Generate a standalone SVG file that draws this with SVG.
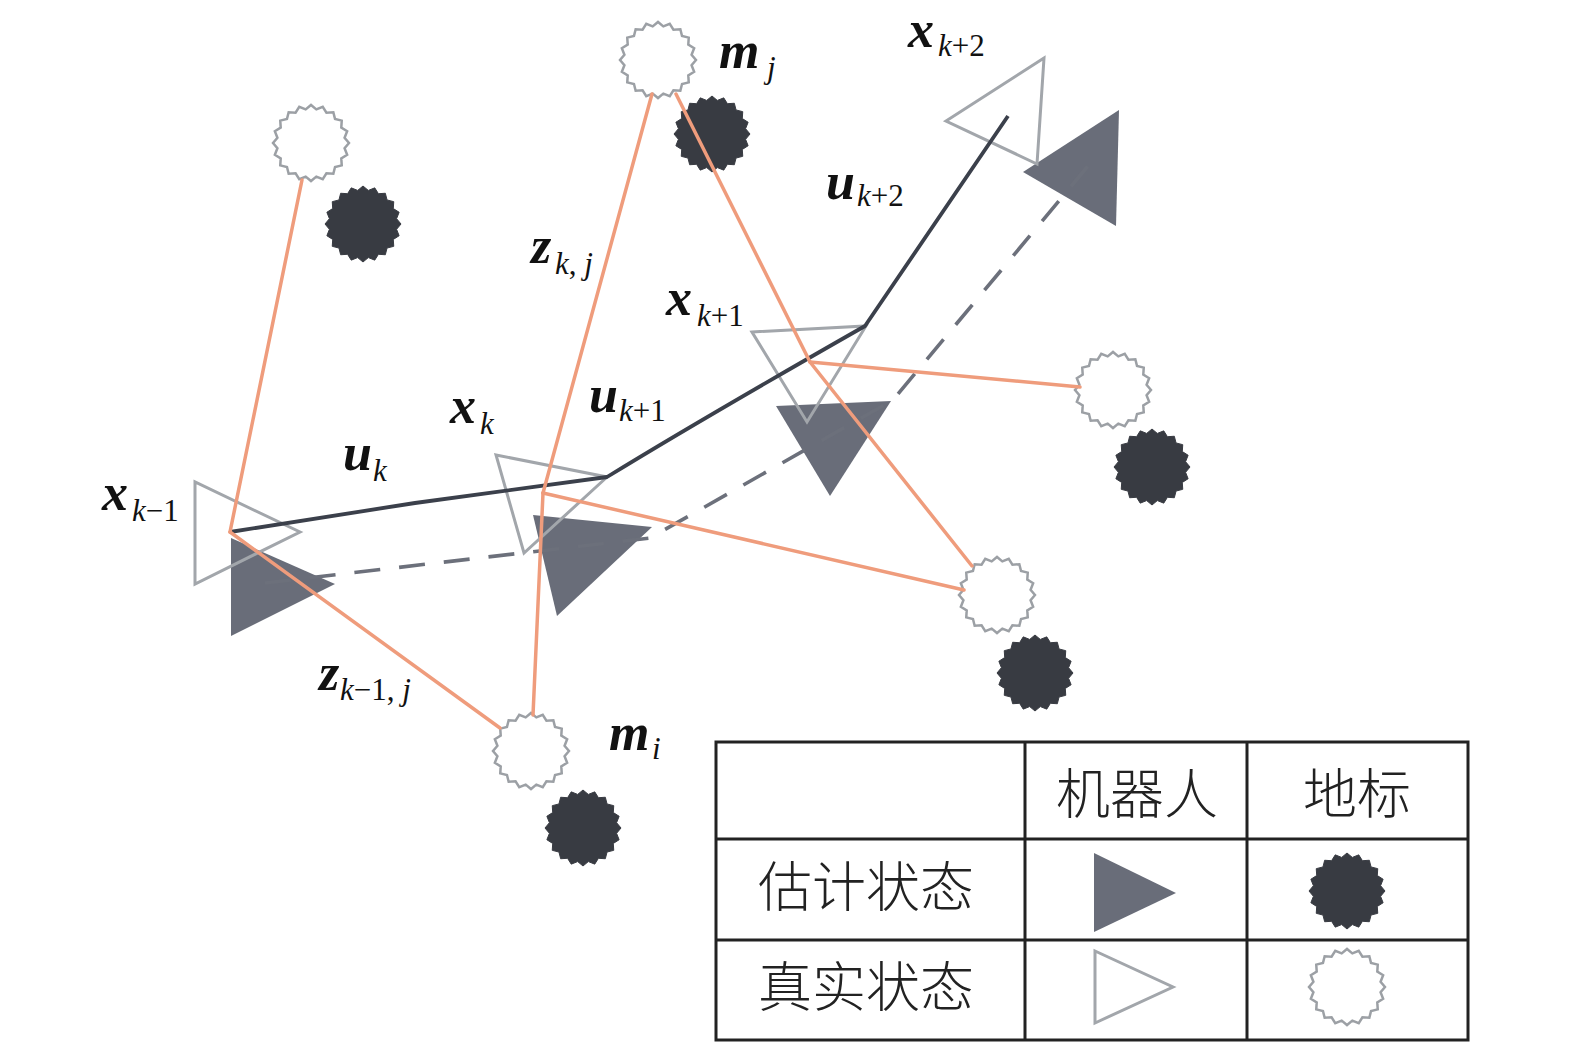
<svg xmlns="http://www.w3.org/2000/svg" xmlns:xlink="http://www.w3.org/1999/xlink" width="1575" height="1047" viewBox="0 0 1575 1047">
<style>
.lmT{fill:#ffffff;stroke:#9ca0a5;stroke-width:2.5}
.lmE{fill:#383b42;stroke:#383b42;stroke-width:1}
.trT{fill:none;stroke:#a2a6ab;stroke-width:3;stroke-linejoin:miter}
.trE{fill:#696d79;stroke:none}
.obs{fill:none;stroke:#ef9c7c;stroke-width:3.5;stroke-linecap:round}
.ctl{fill:none;stroke:#3b404b;stroke-width:3.8;stroke-linejoin:round}
.est{fill:none;stroke:#6c707b;stroke-width:3.6;stroke-dasharray:26 19}
.lbl{font-family:"Liberation Serif","Times New Roman",serif;fill:#111}
.b{font-size:52px;font-weight:bold;font-style:italic}
.si{font-size:31px;font-style:italic}
.sn{font-size:31px;font-style:normal}
.grid{fill:none;stroke:#222;stroke-width:3}
.cjk{font-family:"Noto Sans CJK SC","Noto Sans CJK JP",sans-serif;font-size:54px;font-weight:300;fill:#222;text-anchor:middle;dominant-baseline:central}
</style>
<defs>
<path id="gear" d="M38,0 L33.58,5.32 L36.14,11.74 L30.29,15.44 L30.74,22.34 L24.04,24.04 L22.34,30.74 L15.44,30.29 L11.74,36.14 L5.32,33.58 L0,38 L-5.32,33.58 L-11.74,36.14 L-15.44,30.29 L-22.34,30.74 L-24.04,24.04 L-30.74,22.34 L-30.29,15.44 L-36.14,11.74 L-33.58,5.32 L-38,0 L-33.58,-5.32 L-36.14,-11.74 L-30.29,-15.44 L-30.74,-22.34 L-24.04,-24.04 L-22.34,-30.74 L-15.44,-30.29 L-11.74,-36.14 L-5.32,-33.58 L0,-38 L5.32,-33.58 L11.74,-36.14 L15.44,-30.29 L22.34,-30.74 L24.04,-24.04 L30.74,-22.34 L30.29,-15.44 L36.14,-11.74 L33.58,-5.32 Z"/>
</defs>
<rect x="0" y="0" width="1575" height="1047" fill="#ffffff"/>

<!-- landmarks -->
<g id="landmark-tl">
<use xlink:href="#gear" class="lmT" x="311" y="143"/>
<use xlink:href="#gear" class="lmE" x="363" y="224"/>
</g>
<g id="landmark-mj">
<use xlink:href="#gear" class="lmT" x="658" y="60"/>
<use xlink:href="#gear" class="lmE" x="712" y="134"/>
</g>
<g id="landmark-right">
<use xlink:href="#gear" class="lmT" x="1113" y="390"/>
<use xlink:href="#gear" class="lmE" x="1152" y="467"/>
</g>
<g id="landmark-lowright">
<use xlink:href="#gear" class="lmT" x="997" y="595"/>
<use xlink:href="#gear" class="lmE" x="1035" y="673"/>
</g>
<g id="landmark-mi">
<use xlink:href="#gear" class="lmT" x="531" y="751"/>
<use xlink:href="#gear" class="lmE" x="583" y="828"/>
</g>

<!-- robot poses -->
<g id="pose-k-1">
<polygon class="trE" points="231,538 231,636 335,584"/>
<polygon class="trT" points="195,482 195,584 300,532"/>
</g>
<g id="pose-k">
<polygon class="trE" points="533,515 652,527 557,616"/>
<polygon class="trT" points="496,455 607,477 524,553"/>
</g>
<g id="pose-k+1">
<polygon class="trE" points="776,406 891,401 830,496"/>
<polygon class="trT" points="752,332 866,326 807,422"/>
</g>
<g id="pose-k+2">
<polygon class="trE" points="1119,110 1023,172 1116,226"/>
<polygon class="trT" points="1044,58 946,121 1037,164"/>
</g>

<!-- connectors -->
<g id="connectors">
<path class="est" d="M265,583 L522,553 L650,538 L893,400 L1088,166"/>
<path class="ctl" d="M230,532 L415,503 L607,477 Q700,420 865,326 L1008,116"/>
<line class="obs" x1="302" y1="180" x2="230" y2="532"/>
<line class="obs" x1="230" y1="532" x2="500" y2="728"/>
<line class="obs" x1="543" y1="493" x2="652" y2="94"/>
<line class="obs" x1="543" y1="493" x2="533" y2="715"/>
<line class="obs" x1="543" y1="493" x2="964" y2="590"/>
<line class="obs" x1="676" y1="94" x2="810" y2="362"/>
<line class="obs" x1="810" y1="362" x2="972" y2="566"/>
<line class="obs" x1="810" y1="362" x2="1080" y2="387"/>
</g>

<!-- labels -->
<g id="labels" class="lbl">
<text><tspan class="b" x="908" y="47">x</tspan><tspan class="si" x="938" y="56">k</tspan><tspan class="sn">+2</tspan></text>
<text><tspan class="b" x="719" y="68">m</tspan><tspan class="si" x="767" y="78">j</tspan></text>
<text><tspan class="b" x="826" y="199">u</tspan><tspan class="si" x="857" y="206">k</tspan><tspan class="sn">+2</tspan></text>
<text><tspan class="b" x="531" y="263">z</tspan><tspan class="si" x="555" y="274">k</tspan><tspan class="sn">, </tspan><tspan class="si">j</tspan></text>
<text><tspan class="b" x="666" y="315">x</tspan><tspan class="si" x="697" y="326">k</tspan><tspan class="sn">+1</tspan></text>
<text><tspan class="b" x="589" y="412">u</tspan><tspan class="si" x="619" y="421">k</tspan><tspan class="sn">+1</tspan></text>
<text><tspan class="b" x="450" y="423">x</tspan><tspan class="si" x="480" y="434">k</tspan></text>
<text><tspan class="b" x="343" y="470">u</tspan><tspan class="si" x="373" y="481">k</tspan></text>
<text><tspan class="b" x="102" y="510">x</tspan><tspan class="si" x="132" y="521">k</tspan><tspan class="sn">−1</tspan></text>
<text><tspan class="b" x="319" y="690">z</tspan><tspan class="si" x="340" y="700">k</tspan><tspan class="sn">−1, </tspan><tspan class="si">j</tspan></text>
<text><tspan class="b" x="609" y="750">m</tspan><tspan class="si" x="652" y="759">i</tspan></text>
</g>

<!-- legend -->
<g id="legend">
<rect class="grid" x="716" y="742" width="752" height="298"/>
<line class="grid" x1="1025" y1="742" x2="1025" y2="1040"/>
<line class="grid" x1="1247" y1="742" x2="1247" y2="1040"/>
<line class="grid" x1="716" y1="839" x2="1468" y2="839"/>
<line class="grid" x1="716" y1="940" x2="1468" y2="940"/>
<text class="cjk" x="1137" y="790">机器人</text>
<text class="cjk" x="1357" y="790">地标</text>
<text class="cjk" x="866" y="883">估计状态</text>
<text class="cjk" x="866" y="983">真实状态</text>
<polygon class="trE" points="1094,853 1094,932 1176,893"/>
<polygon class="trT" points="1095,951 1095,1023 1173,987"/>
<use xlink:href="#gear" class="lmE" x="1347" y="891"/>
<use xlink:href="#gear" class="lmT" x="1347" y="987"/>
</g>
</svg>
